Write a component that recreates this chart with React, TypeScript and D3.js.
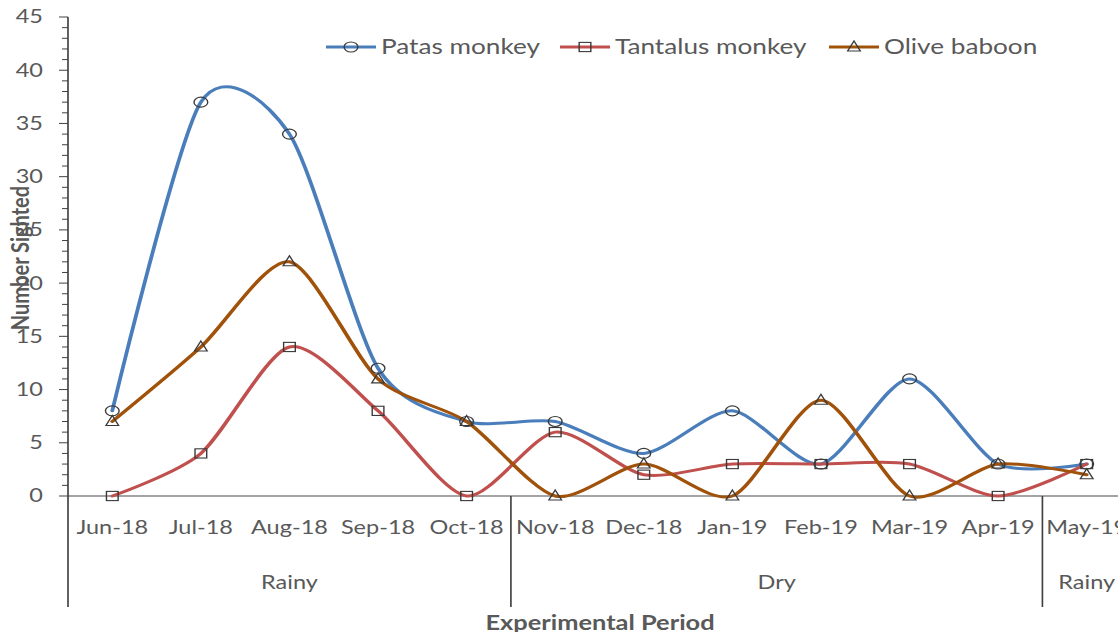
import React from 'react';
import * as d3 from 'd3';

const months = ['Jun-18', 'Jul-18', 'Aug-18', 'Sep-18', 'Oct-18', 'Nov-18', 'Dec-18', 'Jan-19', 'Feb-19', 'Mar-19', 'Apr-19', 'May-19'];
const patas = [8, 37, 34, 12, 7, 7, 4, 8, 3, 11, 3, 3];
const tantalus = [0, 4, 14, 8, 0, 6, 2, 3, 3, 3, 0, 3];
const olive = [7, 14, 22, 11, 7, 0, 3, 0, 9, 0, 3, 2];
const seasonNames = ['Rainy', 'Dry', 'Rainy'];
const seasonStart = [0, 5, 11];
const seasonEnd = [4, 10, 11];
const yTicks = d3.range(0, 50, 5);
const yMinor = d3.range(0, 46, 1);

const series = [
  { name: 'Patas monkey', values: patas, color: '#4a7ebb', marker: 'circle' },
  { name: 'Tantalus monkey', values: tantalus, color: '#c0504d', marker: 'square' },
  { name: 'Olive baboon', values: olive, color: '#a0520a', marker: 'triangle' },
];

// the original picture is stretched sideways, so everything is drawn narrow and stretched
const SX = 1.27;
const W = 1118, H = 632;
const IW = W / SX;
const font = 'Lato, "Open Sans", sans-serif';
const textColor = '#595959';

const x = d3.scaleBand<string>().domain(months).range([68 / SX, 1131 / SX]);
const y = d3.scaleLinear().domain([0, 45]).range([496, 17]);
const cx = (m: string) => (x(m) as number) + x.bandwidth() / 2;

const line = d3.line<number>()
  .x((_, i) => cx(months[i]))
  .y(d => y(d))
  .curve(d3.curveCardinal.tension(0.22));

const Marker = ({ type, px, py }: { type: string; px: number; py: number }) => {
  const st = { fill: 'none', stroke: '#3a3a3a', strokeWidth: 1.1 };
  if (type === 'circle') return <ellipse cx={px} cy={py} rx={5.4} ry={5} {...st} />;
  if (type === 'square') return <rect x={px - 4.6} y={py - 4.6} width={9.2} height={9.2} {...st} />;
  const s = 10;
  const tri = `M${px},${py - s * 0.6}L${px + s * 0.5},${py + s * 0.4}L${px - s * 0.5},${py + s * 0.4}Z`;
  return <path d={tri} {...st} />;
};

const legendX = [326, 560, 829];

export default function App() {
  const left = 68 / SX;
  const bw = x.bandwidth();
  const sepXs = seasonStart.map(i => x(months[i]) as number);
  return (
    <svg width={W} height={H} viewBox={`0 0 ${IW} ${H}`} preserveAspectRatio="none"
      style={{ position: 'fixed', left: 0, top: 0, background: '#fff' }}>
      {/* x axis line at zero */}
      <line x1={left} x2={IW} y1={y(0)} y2={y(0)} stroke="#868686" strokeWidth={1.4} />
      {/* y axis */}
      <line x1={left} x2={left} y1={y(45)} y2={607} stroke="#404040" strokeWidth={1.3} />
      {yMinor.map(v => (
        <line key={'m' + v} x1={left - (v % 5 === 0 ? 9 : 6) / SX} x2={left} y1={y(v)} y2={y(v)} stroke="#404040" strokeWidth={1} />
      ))}
      {yTicks.map(v => (
        <text key={'t' + v} x={43 / SX} y={y(v)} dy="0.35em" textAnchor="end" fontFamily={font} fontSize={18.5} fill={textColor}>{v}</text>
      ))}
      {/* season separators */}
      {sepXs.slice(1).map((sx, i) => (
        <line key={'s' + i} x1={sx} x2={sx} y1={y(0)} y2={607} stroke="#404040" strokeWidth={1.3} />
      ))}
      {months.map(m => (
        <text key={m} x={cx(m)} y={528} dy="0.35em" textAnchor="middle" fontFamily={font} fontSize={18.5} fill={textColor}>{m}</text>
      ))}
      {seasonNames.map((s, i) => {
        const a = x(months[seasonStart[i]]) as number;
        const b = (x(months[seasonEnd[i]]) as number) + bw;
        return <text key={'sn' + i} x={(a + b) / 2} y={583} dy="0.35em" textAnchor="middle" fontFamily={font} fontSize={18.5} fill={textColor}>{s}</text>;
      })}
      {/* series */}
      {series.map(s => (
        <path key={s.name} d={line(s.values) as string} fill="none" stroke={s.color} strokeWidth={3} strokeLinecap="round" />
      ))}
      {series.map(s => s.values.map((v, i) => (
        <Marker key={s.name + i} type={s.marker} px={cx(months[i])} py={y(v)} />
      )))}
      {/* legend */}
      {series.map((s, i) => {
        const lx = legendX[i] / SX;
        return (
          <g key={'lg' + i}>
            <line x1={lx} x2={lx + 50 / SX} y1={47} y2={47} stroke={s.color} strokeWidth={3} />
            <Marker type={s.marker} px={lx + 25 / SX} py={47} />
            <text x={lx + 55 / SX} y={47} dy="0.35em" fontFamily={font} fontSize={20.6} fill={textColor}>{s.name}</text>
          </g>
        );
      })}
      {/* titles */}
      <text transform={`translate(${20 / SX},${258}) rotate(-90)`} textAnchor="middle" dy="0.35em" fontFamily={font} fontWeight="bold" fontSize={20} fill={textColor}>Number Sighted</text>
      <text x={600 / SX} y={623} dy="0.35em" textAnchor="middle" fontFamily={font} fontWeight="bold" fontSize={20} fill={textColor}>Experimental Period</text>
    </svg>
  );
}
